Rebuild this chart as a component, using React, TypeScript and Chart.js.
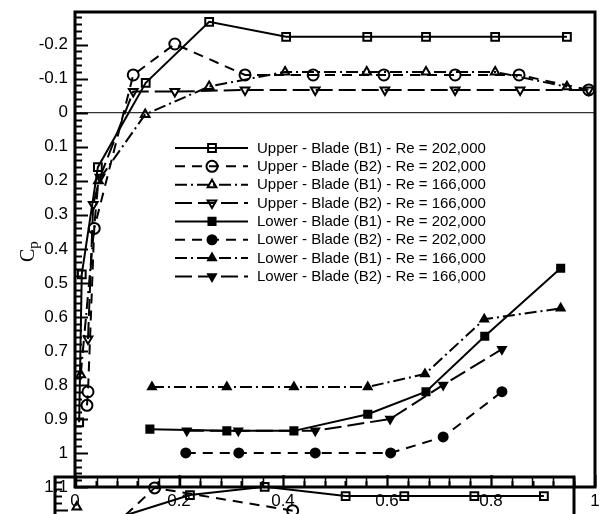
import React, { useEffect, useRef } from 'react';
import { Chart, registerables } from 'chart.js';
import { drawPoint } from 'chart.js/helpers';

Chart.register(...registerables);

// ---- main figure data (x/c, Cp) ----
const upperB1_202_x = [0.008, 0.013, 0.044, 0.136, 0.258, 0.406, 0.562, 0.675, 0.808, 0.946];
const upperB1_202_cp = [0.91, 0.475, 0.16, -0.088, -0.267, -0.223, -0.223, -0.223, -0.223, -0.223];

const upperB2_202_x = [0.023, 0.025, 0.037, 0.112, 0.192, 0.327, 0.458, 0.594, 0.731, 0.854, 0.988];
const upperB2_202_cp = [0.86, 0.82, 0.34, -0.111, -0.202, -0.111, -0.111, -0.111, -0.111, -0.111, -0.067];

const upperB1_166_x = [0.011, 0.045, 0.135, 0.258, 0.404, 0.561, 0.675, 0.808, 0.946];
const upperB1_166_cp = [0.77, 0.2, 0.005, -0.077, -0.12, -0.12, -0.12, -0.12, -0.076];

const upperB2_166_x = [0.025, 0.035, 0.048, 0.112, 0.192, 0.327, 0.462, 0.596, 0.731, 0.856, 0.988];
const upperB2_166_cp = [0.665, 0.27, 0.19, -0.062, -0.062, -0.067, -0.067, -0.067, -0.067, -0.067, -0.067];

const lowerB1_202_x = [0.144, 0.292, 0.421, 0.563, 0.675, 0.788, 0.934];
const lowerB1_202_cp = [0.93, 0.935, 0.935, 0.886, 0.82, 0.657, 0.457];

const lowerB2_202_x = [0.213, 0.315, 0.462, 0.607, 0.708, 0.821];
const lowerB2_202_cp = [1.0, 1.0, 1.0, 1.0, 0.953, 0.82];

const lowerB1_166_x = [0.148, 0.292, 0.421, 0.563, 0.673, 0.787, 0.934];
const lowerB1_166_cp = [0.806, 0.806, 0.806, 0.806, 0.768, 0.607, 0.575];

const lowerB2_166_x = [0.215, 0.314, 0.462, 0.606, 0.708, 0.821];
const lowerB2_166_cp = [0.935, 0.935, 0.935, 0.9, 0.8, 0.695];

// ---- stray overlapping figure visible at the bottom edge ----
const strayB1_x = [0.087, 0.26, 0.404, 0.56, 0.673, 0.808, 0.942];
const strayB1_cp = [-0.16, -0.243, -0.267, -0.24, -0.24, -0.24, -0.24];
const strayB2_x = [0.112, 0.192, 0.458];
const strayB2_cp = [-0.15, -0.264, -0.197];
const strayB1b_x = [0.042];
const strayB1b_cp = [-0.208];

const seriesLabels = [
  'Upper - Blade (B1) - Re = 202,000',
  'Upper - Blade (B2) - Re = 202,000',
  'Upper - Blade (B1) - Re = 166,000',
  'Upper - Blade (B2) - Re = 166,000',
  'Lower - Blade (B1) - Re = 202,000',
  'Lower - Blade (B2) - Re = 202,000',
  'Lower - Blade (B1) - Re = 166,000',
  'Lower - Blade (B2) - Re = 166,000',
];

const xTickValues = [0, 0.2, 0.4, 0.6, 0.8, 1];
const yTickValues = [-0.2, -0.1, 0, 0.1, 0.2, 0.3, 0.4, 0.5, 0.6, 0.7, 0.8, 0.9, 1, 1.1];

const Y_TOP = -0.296;
const Y_BOTTOM = 1.1;

// ---- styles ----
const SOLID: number[] = [];
const DASH = [10, 7];
const DASHDOT = [12, 4, 2, 4];
const LONGDASH = [17, 6];

type St = { pointStyle: string; filled: boolean; dash: number[]; rotation: number; radius: number };

const styles: St[] = [
  { pointStyle: 'rect', filled: false, dash: SOLID, rotation: 0, radius: 5.5 },
  { pointStyle: 'circle', filled: false, dash: DASH, rotation: 0, radius: 5.5 },
  { pointStyle: 'triangle', filled: false, dash: DASHDOT, rotation: 0, radius: 5 },
  { pointStyle: 'triangle', filled: false, dash: LONGDASH, rotation: 180, radius: 5 },
  { pointStyle: 'rect', filled: true, dash: SOLID, rotation: 0, radius: 5 },
  { pointStyle: 'circle', filled: true, dash: DASH, rotation: 0, radius: 4.5 },
  { pointStyle: 'triangle', filled: true, dash: DASHDOT, rotation: 0, radius: 4.5 },
  { pointStyle: 'triangle', filled: true, dash: LONGDASH, rotation: 180, radius: 4.5 },
];

const mainSeries: [number[], number[]][] = [
  [upperB1_202_x, upperB1_202_cp],
  [upperB2_202_x, upperB2_202_cp],
  [upperB1_166_x, upperB1_166_cp],
  [upperB2_166_x, upperB2_166_cp],
  [lowerB1_202_x, lowerB1_202_cp],
  [lowerB2_202_x, lowerB2_202_cp],
  [lowerB1_166_x, lowerB1_166_cp],
  [lowerB2_166_x, lowerB2_166_cp],
];

const straySeries: [number[], number[]][] = [
  [strayB1_x, strayB1_cp],
  [strayB2_x, strayB2_cp],
  [strayB1b_x, strayB1b_cp],
];

const FONT = "'Liberation Sans', Arial, sans-serif";

function makeFramePlugin(opts: { legend: boolean; title: boolean; topTicks: boolean; bottomTicks: boolean }) {
  return {
    id: 'framePlugin',
    beforeDatasetsDraw(chart: any) {
      const { ctx, chartArea: a, scales } = chart;
      const y0 = scales.y.getPixelForValue(0);
      ctx.save();
      ctx.strokeStyle = '#000';
      ctx.lineWidth = 1;
      ctx.beginPath();
      ctx.moveTo(a.left, y0);
      ctx.lineTo(a.right, y0);
      ctx.stroke();
      ctx.restore();
    },
    afterDatasetsDraw(chart: any) {
      const { ctx, chartArea: a, scales } = chart;
      const xs = scales.x;
      const ys = scales.y;
      ctx.save();
      ctx.strokeStyle = '#000';
      ctx.lineWidth = 2;
      const kMin = Math.ceil(Y_TOP / 0.02 - 1e-6);
      const kMax = Math.floor(Y_BOTTOM / 0.02 + 1e-6);
      for (let k = kMin; k <= kMax; k++) {
        const v = k * 0.02;
        const py = Math.round(ys.getPixelForValue(v)) + 0.5;
        const len = k % 5 === 0 ? 13 : 7;
        ctx.beginPath();
        ctx.moveTo(a.left, py);
        ctx.lineTo(a.left + len, py);
        ctx.stroke();
      }
      for (let k = 0; k <= 25; k++) {
        const v = k * 0.04;
        const px = Math.round(xs.getPixelForValue(v)) + 0.5;
        if (opts.bottomTicks) {
          const len = k % 5 === 0 ? 12 : 6;
          ctx.beginPath();
          ctx.moveTo(px, a.bottom);
          ctx.lineTo(px, a.bottom - len);
          ctx.stroke();
        }
        if (opts.topTicks) {
          ctx.lineWidth = 1.5;
          ctx.beginPath();
          ctx.moveTo(px, a.top);
          ctx.lineTo(px, a.top + 10);
          ctx.stroke();
          ctx.lineWidth = 2;
        }
      }
      ctx.lineWidth = 3;
      ctx.strokeRect(a.left, a.top, a.right - a.left, a.bottom - a.top);

      if (opts.legend) {
        const lx0 = a.left + 100;
        const lx1 = a.left + 173;
        const mx = a.left + 137;
        const tx = a.left + 182;
        chart.data.datasets.forEach((ds: any, i: number) => {
          const st = styles[i];
          const yy = a.top + 136 + i * 18.35;
          ctx.save();
          ctx.strokeStyle = '#000';
          ctx.lineWidth = 2;
          ctx.setLineDash(st.dash);
          ctx.beginPath();
          ctx.moveTo(lx0, yy);
          ctx.lineTo(lx1, yy);
          ctx.stroke();
          ctx.setLineDash([]);
          ctx.fillStyle = st.filled ? '#000' : 'rgba(0,0,0,0)';
          drawPoint(ctx, { pointStyle: st.pointStyle, radius: st.radius, rotation: st.rotation, borderWidth: 2 } as any, mx, yy);
          ctx.fillStyle = '#000';
          ctx.font = `15px ${FONT}`;
          ctx.textBaseline = 'middle';
          ctx.textAlign = 'left';
          ctx.fillText(ds.label, tx, yy + 0.5);
          ctx.restore();
        });
      }

      if (opts.title) {
        ctx.save();
        ctx.translate(34, 252);
        ctx.rotate(-Math.PI / 2);
        ctx.fillStyle = '#000';
        ctx.textBaseline = 'alphabetic';
        ctx.textAlign = 'left';
        ctx.font = "20px 'Liberation Serif', 'Times New Roman', serif";
        ctx.fillText('C', -10, 0);
        const cw = ctx.measureText('C').width;
        ctx.font = "15px 'Liberation Serif', 'Times New Roman', serif";
        ctx.fillText('p', -10 + cw, 4);
        ctx.restore();
      }
      ctx.restore();
    },
  };
}

function makeConfig(series: [number[], number[]][], labels: string[], main: boolean): any {
  const datasets = series.map(([xv, yv], i) => {
    const st = styles[i];
    return {
      label: labels[i] || '',
      data: xv.map((x, j) => ({ x, y: yv[j] })),
      showLine: true,
      borderColor: '#000',
      borderWidth: 2,
      borderDash: st.dash,
      backgroundColor: st.filled ? '#000' : 'rgba(0,0,0,0)',
      pointStyle: st.pointStyle,
      pointRadius: st.radius,
      pointRotation: st.rotation,
      pointBorderWidth: 2,
      pointBorderColor: '#000',
      pointBackgroundColor: st.filled ? '#000' : 'rgba(0,0,0,0)',
      tension: 0,
      clip: main ? false : undefined,
    };
  });
  const tickColor = main ? '#000' : 'rgba(0,0,0,0)';
  return {
    type: 'scatter',
    data: { datasets },
    options: {
      animation: false,
      responsive: false,
      devicePixelRatio: 1,
      layout: { padding: { left: 0, right: main ? 13 : 34, top: 12, bottom: 0 } },
      plugins: { legend: { display: false }, tooltip: { enabled: false } },
      scales: {
        x: {
          type: 'linear',
          min: 0,
          max: 1,
          grid: { display: false, drawTicks: false },
          border: { display: false },
          afterBuildTicks: (s: any) => {
            s.ticks = xTickValues.map((v) => ({ value: v }));
          },
          afterFit: (s: any) => {
            s.height = 27;
            s.paddingLeft = 0;
            s.paddingRight = 0;
          },
          ticks: {
            color: tickColor,
            font: { family: FONT, size: 17 },
            padding: 4,
            maxRotation: 0,
            autoSkip: false,
            callback: (v: any) => String(Number(Number(v).toFixed(2))),
          },
        },
        y: {
          type: 'linear',
          min: Y_TOP,
          max: Y_BOTTOM,
          reverse: true,
          grid: { display: false, drawTicks: false },
          border: { display: false },
          afterBuildTicks: (s: any) => {
            s.ticks = yTickValues.map((v) => ({ value: v }));
          },
          afterFit: (s: any) => {
            s.width = main ? 75 : 55;
            s.paddingTop = 0;
            s.paddingBottom = 0;
          },
          ticks: {
            color: tickColor,
            font: { family: FONT, size: 17 },
            padding: 7,
            autoSkip: false,
            callback: (v: any) => String(Number(Number(v).toFixed(2))),
          },
        },
      },
    },
    plugins: [makeFramePlugin({ legend: main, title: main, topTicks: !main, bottomTicks: main })],
  };
}

export default function App() {
  const mainRef = useRef<HTMLCanvasElement | null>(null);
  const strayRef = useRef<HTMLCanvasElement | null>(null);
  useEffect(() => {
    if (!mainRef.current || !strayRef.current) return;
    const c1 = new Chart(mainRef.current, makeConfig(mainSeries, seriesLabels, true));
    const c2 = new Chart(strayRef.current, makeConfig(straySeries, [], false));
    return () => {
      c1.destroy();
      c2.destroy();
    };
  }, []);
  return (
    <div style={{ position: 'absolute', left: 0, top: 0, width: 608, height: 514, background: '#fff', overflow: 'hidden' }}>
      <canvas ref={mainRef} width={608} height={514} style={{ position: 'absolute', left: 0, top: 0, width: 608, height: 514 }} />
      <canvas
        ref={strayRef}
        width={608}
        height={514}
        style={{ position: 'absolute', left: 0, top: 465, width: 608, height: 514, pointerEvents: 'none' }}
      />
    </div>
  );
}
